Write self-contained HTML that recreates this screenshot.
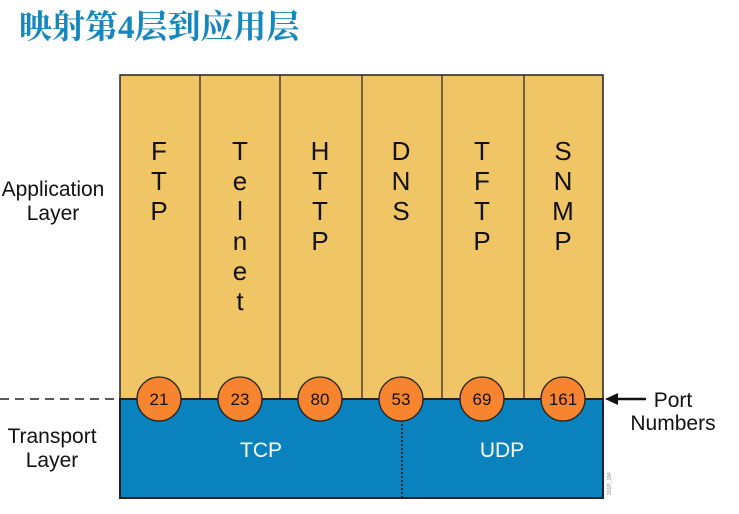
<!DOCTYPE html>
<html><head><meta charset="utf-8"><style>
html,body{margin:0;padding:0;background:#fff;width:739px;height:514px;overflow:hidden}
</style></head><body>
<svg width="739" height="514" xmlns="http://www.w3.org/2000/svg" font-family="Liberation Sans, sans-serif">
<text x="19" y="38" font-family="Liberation Serif, Noto Serif CJK SC, serif" font-weight="bold" font-size="33" fill="#1587bf">映射第4层到应用层</text>
<rect x="120" y="75" width="483" height="324" fill="#f0c565" stroke="#222" stroke-width="1.5"/>
<rect x="120" y="399" width="483" height="99" fill="#0a82bd" stroke="#222" stroke-width="2"/>
<g stroke="#222" stroke-width="1.2">
<line x1="200" y1="75" x2="200" y2="399"/><line x1="280" y1="75" x2="280" y2="399"/>
<line x1="362" y1="75" x2="362" y2="399"/><line x1="442" y1="75" x2="442" y2="399"/>
<line x1="524" y1="75" x2="524" y2="399"/>
</g>
<line x1="402" y1="420" x2="402" y2="498" stroke="#111" stroke-width="1.5" stroke-dasharray="2,2"/>
<line x1="0" y1="399" x2="118" y2="399" stroke="#222" stroke-width="1.5" stroke-dasharray="9,6"/>
<g font-size="26" fill="#111" text-anchor="middle">
<text x="159" y="160"><tspan x="159">F</tspan><tspan x="159" dy="30">T</tspan><tspan x="159" dy="30">P</tspan></text>
<text x="240" y="160"><tspan x="240">T</tspan><tspan x="240" dy="30">e</tspan><tspan x="240" dy="30">l</tspan><tspan x="240" dy="30">n</tspan><tspan x="240" dy="30">e</tspan><tspan x="240" dy="30">t</tspan></text>
<text x="320" y="160"><tspan x="320">H</tspan><tspan x="320" dy="30">T</tspan><tspan x="320" dy="30">T</tspan><tspan x="320" dy="30">P</tspan></text>
<text x="401" y="160"><tspan x="401">D</tspan><tspan x="401" dy="30">N</tspan><tspan x="401" dy="30">S</tspan></text>
<text x="482" y="160"><tspan x="482">T</tspan><tspan x="482" dy="30">F</tspan><tspan x="482" dy="30">T</tspan><tspan x="482" dy="30">P</tspan></text>
<text x="563" y="160"><tspan x="563">S</tspan><tspan x="563" dy="30">N</tspan><tspan x="563" dy="30">M</tspan><tspan x="563" dy="30">P</tspan></text>
</g>
<g fill="#f7852f" stroke="#222" stroke-width="1.3">
<circle cx="159" cy="399" r="22"/><circle cx="240" cy="399" r="22"/><circle cx="320" cy="399" r="22"/>
<circle cx="401" cy="399" r="22"/><circle cx="482" cy="399" r="22"/><circle cx="563" cy="399" r="22"/>
</g>
<g font-size="17" fill="#111" text-anchor="middle">
<text x="159" y="405">21</text><text x="240" y="405">23</text><text x="320" y="405">80</text>
<text x="401" y="405">53</text><text x="482" y="405">69</text><text x="563" y="405">161</text>
</g>
<g font-size="21" fill="#fff" text-anchor="middle">
<text x="261" y="457">TCP</text><text x="502" y="457">UDP</text>
</g>
<g font-size="21" fill="#111" text-anchor="middle">
<text x="53" y="196">Application</text><text x="53" y="220">Layer</text>
<text x="52" y="443">Transport</text><text x="52" y="467">Layer</text>
<text x="673" y="407">Port</text><text x="673" y="430">Numbers</text>
</g>
<line x1="615" y1="399" x2="646" y2="399" stroke="#111" stroke-width="2.5"/>
<polygon points="605,399 618,393 618,405" fill="#111"/>
<text x="611" y="495" font-size="5" fill="#888" transform="rotate(-90 611 495)">301P_184</text>
</svg>
</body></html>
